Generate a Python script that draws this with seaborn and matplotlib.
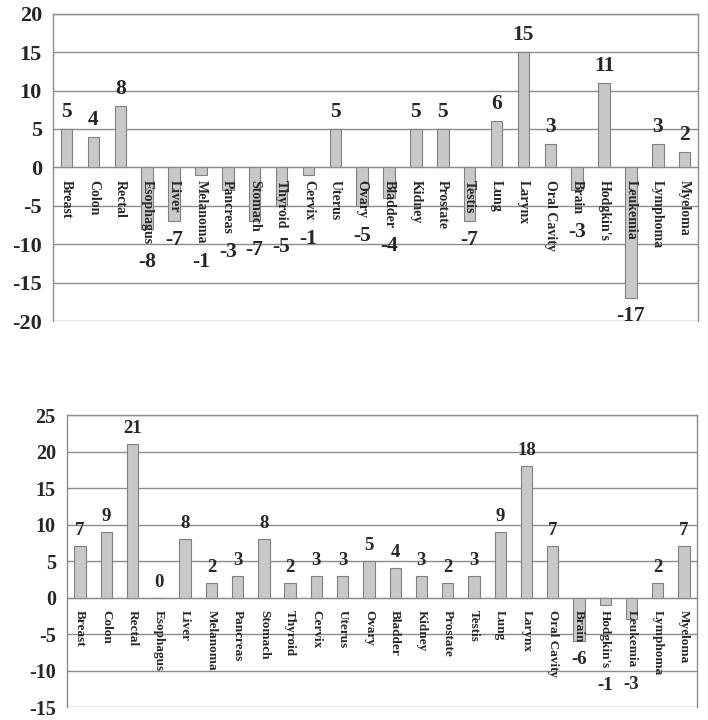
import numpy as np
import pandas as pd
import seaborn as sns
import matplotlib.pyplot as plt

CANCER_SITES = [
    "Breast", "Colon", "Rectal", "Esophagus", "Liver", "Melanoma", "Pancreas",
    "Stomach", "Thyroid", "Cervix", "Uterus", "Ovary", "Bladder", "Kidney",
    "Prostate", "Testis", "Lung", "Larynx", "Oral Cavity", "Brain",
    "Hodgkin's", "Leukemia", "Lymphoma", "Myeloma",
]
TOP_VALUES = [5, 4, 8, -8, -7, -1, -3, -7, -5, -1, 5, -5, -4, 5, 5, -7, 6, 15,
              3, -3, 11, -17, 3, 2]
BOTTOM_VALUES = [7, 9, 21, 0, 8, 2, 3, 8, 2, 3, 3, 5, 4, 3, 2, 3, 9, 18, 7, -6,
                 -1, -3, 2, 7]

BAR_COLOR = "#c8c8c8"
EDGE_COLOR = "#808080"
GRID_COLOR = "#8c8c8c"


def draw_panel(fig, rect, values, ylim, ystep, ytick_size, value_size, cat_size):
    ax = fig.add_axes(rect)
    df = pd.DataFrame({"site": CANCER_SITES, "value": values})
    sns.barplot(data=df, x="site", y="value", order=CANCER_SITES, color=BAR_COLOR,
                edgecolor=EDGE_COLOR, linewidth=0.8, width=0.43, saturation=1,
                ax=ax, zorder=2)
    n = len(CANCER_SITES)
    ax.set_xlim(-0.5, n - 0.5)
    ax.set_ylim(*ylim)
    yticks = np.arange(ylim[0], ylim[1] + 1, ystep)
    ax.set_yticks(yticks)
    # gridlines behind the bars, axis (tick labels) in front of them
    ax.set_axisbelow(False)
    for y in yticks:
        ax.axhline(y, color=GRID_COLOR, linewidth=1, zorder=0.5)
    ax.set_xlabel("")
    ax.set_ylabel("")

    for side in ["left", "right", "top"]:
        ax.spines[side].set_color(GRID_COLOR)
        ax.spines[side].set_linewidth(1)
    ax.spines["bottom"].set_position(("data", 0))
    ax.spines["bottom"].set_color(GRID_COLOR)

    ax.set_xticks(np.arange(n))
    ax.set_xticks(np.arange(n + 1) - 0.5, minor=True)
    ax.tick_params(axis="x", which="major", length=0, pad=9)
    ax.tick_params(axis="x", which="minor", length=4, color=GRID_COLOR,
                   direction="out")
    ax.set_xticklabels(CANCER_SITES, rotation=270, fontsize=cat_size,
                       va="top", ha="center")
    ax.tick_params(axis="y", length=4, color=GRID_COLOR, labelsize=ytick_size,
                   pad=4)

    # value labels: above positive bars, below the bar or its name for negatives
    fig.canvas.draw()
    renderer = fig.canvas.get_renderer()
    inv = ax.transData.inverted()
    for i, (lbl, v) in enumerate(zip(ax.get_xticklabels(), values)):
        if v >= 0:
            ax.annotate(f"{v}", (i, v), xytext=(0, 5), textcoords="offset points",
                        ha="center", va="bottom", fontsize=value_size,
                        annotation_clip=False)
        else:
            bb = lbl.get_window_extent(renderer)
            text_end = inv.transform((0, bb.y0))[1]
            y = min(v, text_end)
            ax.annotate(f"{v}", (i, y), xytext=(0, -6), textcoords="offset points",
                        ha="center", va="top", fontsize=value_size,
                        annotation_clip=False)
    return ax


sns.set_style("white")
plt.rcParams["font.family"] = ["Liberation Serif", "DejaVu Serif"]
plt.rcParams["font.weight"] = "bold"
plt.rcParams["axes.unicode_minus"] = False

fig = plt.figure(figsize=(7.08, 7.2), dpi=100)
draw_panel(fig, [0.075, 0.554, 0.911, 0.427], TOP_VALUES, (-20, 20), 5, 16, 15.5, 10)
draw_panel(fig, [0.0946, 0.018, 0.89, 0.4056], BOTTOM_VALUES, (-15, 25), 5, 14.5, 13.5, 9.5)

fig.savefig("out.png", dpi=100)
